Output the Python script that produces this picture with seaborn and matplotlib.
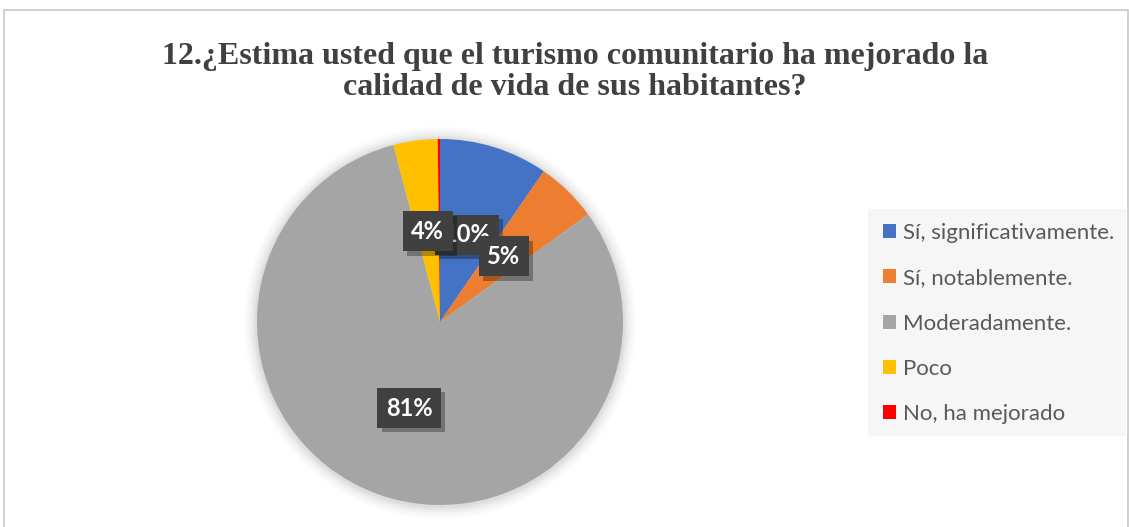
import matplotlib
matplotlib.use("Agg")
import matplotlib.pyplot as plt
import matplotlib.patheffects as pe
from matplotlib.patches import Rectangle, Circle
import seaborn as sns

categories = ["Sí, significativamente.", "Sí, notablemente.", "Moderadamente.", "Poco", "No, ha mejorado"]
values = [9.6, 5.4, 80.9, 3.9, 0.2]
colors = ["#4472C4", "#ED7D31", "#A5A5A5", "#FFC000", "#FF0000"]
title = "12.¿Estima usted que el turismo comunitario ha mejorado la\ncalidad de vida de sus habitantes?"

sns.set_theme(style="white")
plt.rcParams['font.family'] = ['Lato', 'DejaVu Sans']

W, H = 1129, 527
fig = plt.figure(figsize=(W / 100, H / 100), dpi=100)
fig.patch.set_facecolor("white")

# chart border
fig.patches.append(Rectangle((4 / W, -0.01), (W - 5) / W, (H - 10) / H + 0.01,
                             transform=fig.transFigure, fill=False,
                             edgecolor="#c8c8c8", linewidth=1.2))
# legend background
fig.patches.append(Rectangle((868 / W, (H - 436) / H), (1126 - 868) / W, (436 - 209) / H,
                             transform=fig.transFigure, facecolor="#f6f6f6",
                             edgecolor="none", zorder=0))

fig.text(575 / W, (H - 72) / H, title, ha="center", va="center",
         family="Liberation Serif", fontweight="bold", fontsize=23,
         color="#404040", linespacing=1.12)

cx, cy, r = 440, 322, 183
ax = fig.add_axes([(cx - r) / W, (H - cy - r) / H, 2 * r / W, 2 * r / H])
ax.set_xlim(-1, 1)
ax.set_ylim(-1, 1)
ax.axis("off")

# soft shadow around the pie
for i, a in enumerate([0.035, 0.03, 0.025, 0.02, 0.015, 0.01]):
    ax.add_patch(Circle((0, -0.005), 1.0 + 0.012 * (i + 1), color="black",
                        alpha=a, lw=0, zorder=0, clip_on=False))


def fmt(p):
    return f"{p:.0f}%" if p >= 1 else ""


wedges, texts, autotexts = ax.pie(values, colors=colors, startangle=90,
                                  counterclock=False, radius=1.0,
                                  autopct=fmt, pctdistance=0.5,
                                  wedgeprops=dict(linewidth=0))
ax.set_xlim(-1, 1)
ax.set_ylim(-1, 1)
for w in wedges:
    w.set_zorder(1)

zorders = [3, 4, 5, 6, 7]
for t, z in zip(autotexts, zorders):
    t.set_color("white")
    t.set_fontweight("bold")
    t.set_fontsize(17)
    t.set_zorder(z)
    t.set_bbox(dict(boxstyle="square,pad=0.36", facecolor="#404040",
                    edgecolor="none"))
    t.get_bbox_patch().set_path_effects([
        pe.SimplePatchShadow(offset=(3, -3), shadow_rgbFace="black", alpha=0.3),
        pe.Normal()])

handles = [Rectangle((0, 0), 1, 1, facecolor=c, edgecolor="none") for c in colors]
leg = fig.legend(handles, categories, loc="upper left",
                 bbox_to_anchor=(874 / W, (H - 214) / H),
                 frameon=False, fontsize=16, labelcolor="#595959",
                 handlelength=0.6, handleheight=0.6, handletextpad=0.3,
                 labelspacing=1.14, borderaxespad=0)

fig.savefig("out.png", dpi=100, facecolor="white")
